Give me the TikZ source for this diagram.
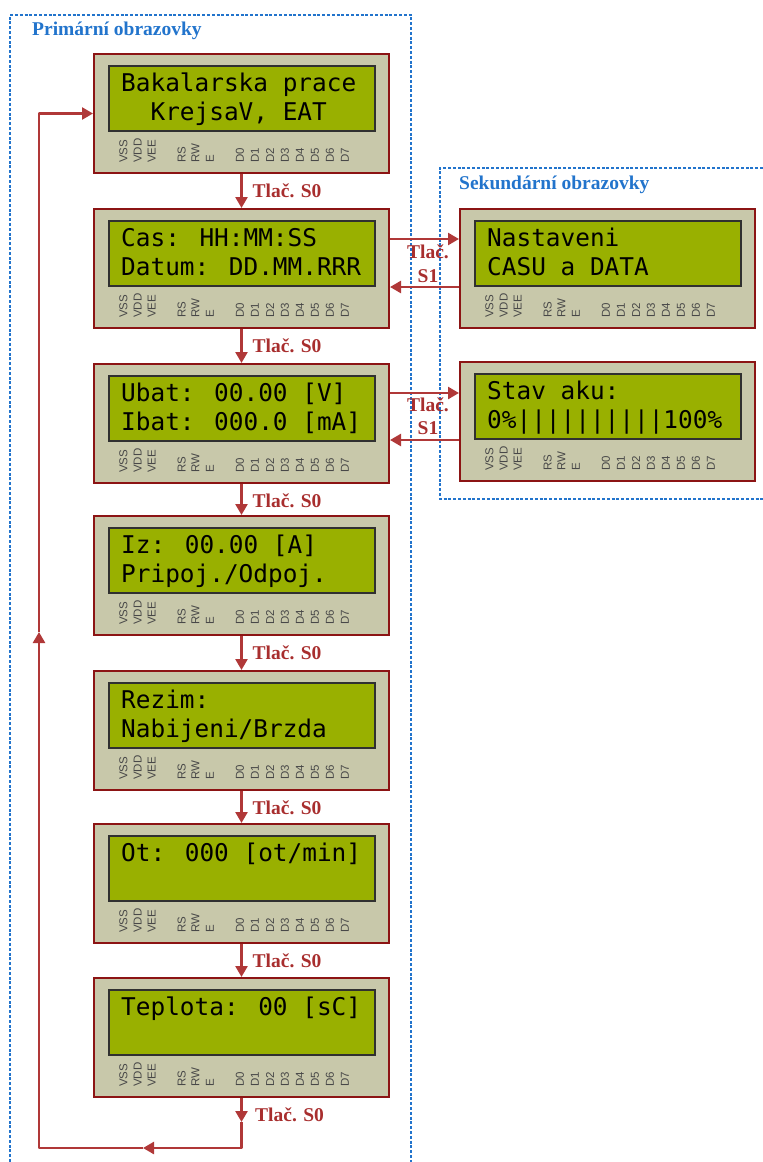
\documentclass[tikz,border=0pt]{standalone}
\usepackage{fontspec}
\setmainfont{Liberation Serif}
\newfontfamily\lcdfont{DejaVu Sans Mono}
\newfontfamily\pinfont{Liberation Sans}
\usetikzlibrary{arrows.meta,calc}
\definecolor{lcdred}{HTML}{8C1414}
\definecolor{lcdbeige}{HTML}{C8C8AA}
\definecolor{scrgreen}{HTML}{99B000}
\definecolor{scrborder}{HTML}{303030}
\definecolor{pingray}{HTML}{484848}
\definecolor{arrred}{HTML}{B03838}
\definecolor{lblred}{HTML}{A82E2E}
\definecolor{ttlblue}{HTML}{2274CC}
\tikzset{
 lcdbox/.style={draw=lcdred, line width=2pt, fill=lcdbeige, minimum width=295pt, minimum height=119pt, inner sep=0pt, anchor=north west},
 screen/.style={draw=scrborder, line width=1.5pt, fill=scrgreen, minimum width=266pt, minimum height=65pt, inner sep=0pt, anchor=north west},
 lcdtext/.style={font=\lcdfont\fontsize{24.4}{26}\selectfont, anchor=base west, inner sep=0pt},
 pin/.style={font=\pinfont\fontsize{11.5}{11.5}\selectfont, text=pingray, rotate=90, anchor=west, inner sep=0pt},
 arr/.style={draw=arrred, line width=2.5pt, line join=round, -{Triangle[length=11pt,width=12pt]}},
 lbl/.style={font=\bfseries\fontsize{19.5}{20}\selectfont, text=lblred, inner sep=0pt, anchor=base west},
 ttl/.style={font=\bfseries\fontsize{19.5}{20}\selectfont, text=ttlblue, inner sep=0pt, anchor=base west},
 frame/.style={draw=ttlblue, line width=1.8pt, dash pattern=on 3pt off 1.8pt},
}
\newcommand{\lcdpanel}[5]{%
 \node[lcdbox] (#1) at (#2,#3) {};
 \node[screen] (#1scr) at ($(#1.north west)+(15,12)$) {};
 \node[lcdtext] (#1ra) at ($(#1.north west)+(28,38)$) {#4};
 \node[lcdtext] (#1rb) at ($(#1.north west)+(28,67)$) {#5};
 \foreach \lab/\dx [count=\k] in {VSS/30.3, VDD/44.7, VEE/58.7, RS/88.7, RW/102.5, E/117, D0/147, D1/162, D2/177, D3/192, D4/207, D5/222, D6/237, D7/252}
   \node[pin] (#1pin\k) at ($(#1.north west)+(\dx,110)$) {\lab};
}
\begin{document}
\begin{tikzpicture}[x=1pt,y=-1pt]
\useasboundingbox (0,0) rectangle (763,1162);
% primary screens
\lcdpanel{p1}{93}{53}{Bakalarska prace}{\phantom{00}KrejsaV, EAT}
\lcdpanel{p2}{93}{208}{Cas: HH:MM:SS}{Datum: DD.MM.RRR}
\lcdpanel{p3}{93}{363}{Ubat: 00.00 [V]}{Ibat: 000.0 [mA]}
\lcdpanel{p4}{93}{515}{Iz: 00.00 [A]}{Pripoj./Odpoj.}
\lcdpanel{p5}{93}{670}{Rezim:}{Nabijeni/Brzda}
\lcdpanel{p6}{93}{823}{Ot: 000 [ot/min]}{}
\lcdpanel{p7}{93}{977}{Teplota: 00 [sC]}{}
% secondary screens
\lcdpanel{s1}{459}{208}{Nastaveni}{CASU a DATA}
\lcdpanel{s2}{459}{361}{Stav aku:}{0\%||||||||||100\%}
% frames
\draw[frame] (10,1162) -- (10,15) -- (411,15) -- (411,1162);
\draw[frame] (763,168) -- (440,168) -- (440,499) -- (763,499);
% S0 arrows
\foreach \a/\b in {p1/p2, p2/p3, p3/p4, p4/p5, p5/p6, p6/p7}{
  \draw[arr] (\a.south) -- (\b.north);
  \node[lbl] (\a lbl) at ($(\a.south)+(11,23)$) {Tlač. S0};
}
% loop back
\coordinate (b1) at ($(p7.south)+(0,24)$);
\coordinate (b2) at ($(p7.south)+(0,50)$);
\coordinate (b3) at ($(b2)+(-98.5,0)$);
\coordinate (b4) at ($(b2)+(-202.5,0)$);
\coordinate (b5) at ($(b4)+(0,-516)$);
\coordinate (b6) at (b4 |- p1.west);
\draw[arr] (p7.south) -- (b1);
\node[lbl] (p7lbl) at (255,1121) {Tlač. S0};
\draw[arr] (b1) -- (b2) -- (b3);
\draw[arr] (b3) -- (b4) -- (b5);
\draw[arr] (b5) -- (b6) -- (p1.west);
% S1 arrows
\draw[arr] ($(p2.north east)+(0,31)$) -- ($(s1.north west)+(0,31)$);
\draw[arr] ($(s1.north west)+(0,79)$) -- ($(p2.north east)+(0,79)$);
\node[lbl, anchor=base] (s1la) at (428,258) {Tlač.};
\node[lbl, anchor=base] (s1lb) at (428,282) {S1};
\draw[arr] ($(p3.north east)+(0,30)$) -- ($(s2.north west)+(0,32)$);
\draw[arr] ($(s2.north west)+(0,79)$) -- ($(p3.north east)+(0,77)$);
\node[lbl, anchor=base] (s2la) at (428,411) {Tlač.};
\node[lbl, anchor=base] (s2lb) at (428,434) {S1};
% titles
\node[ttl] (t1) at (32,35) {Primární obrazovky};
\node[ttl] (t2) at (459,189) {Sekundární obrazovky};
\end{tikzpicture}
\end{document}
